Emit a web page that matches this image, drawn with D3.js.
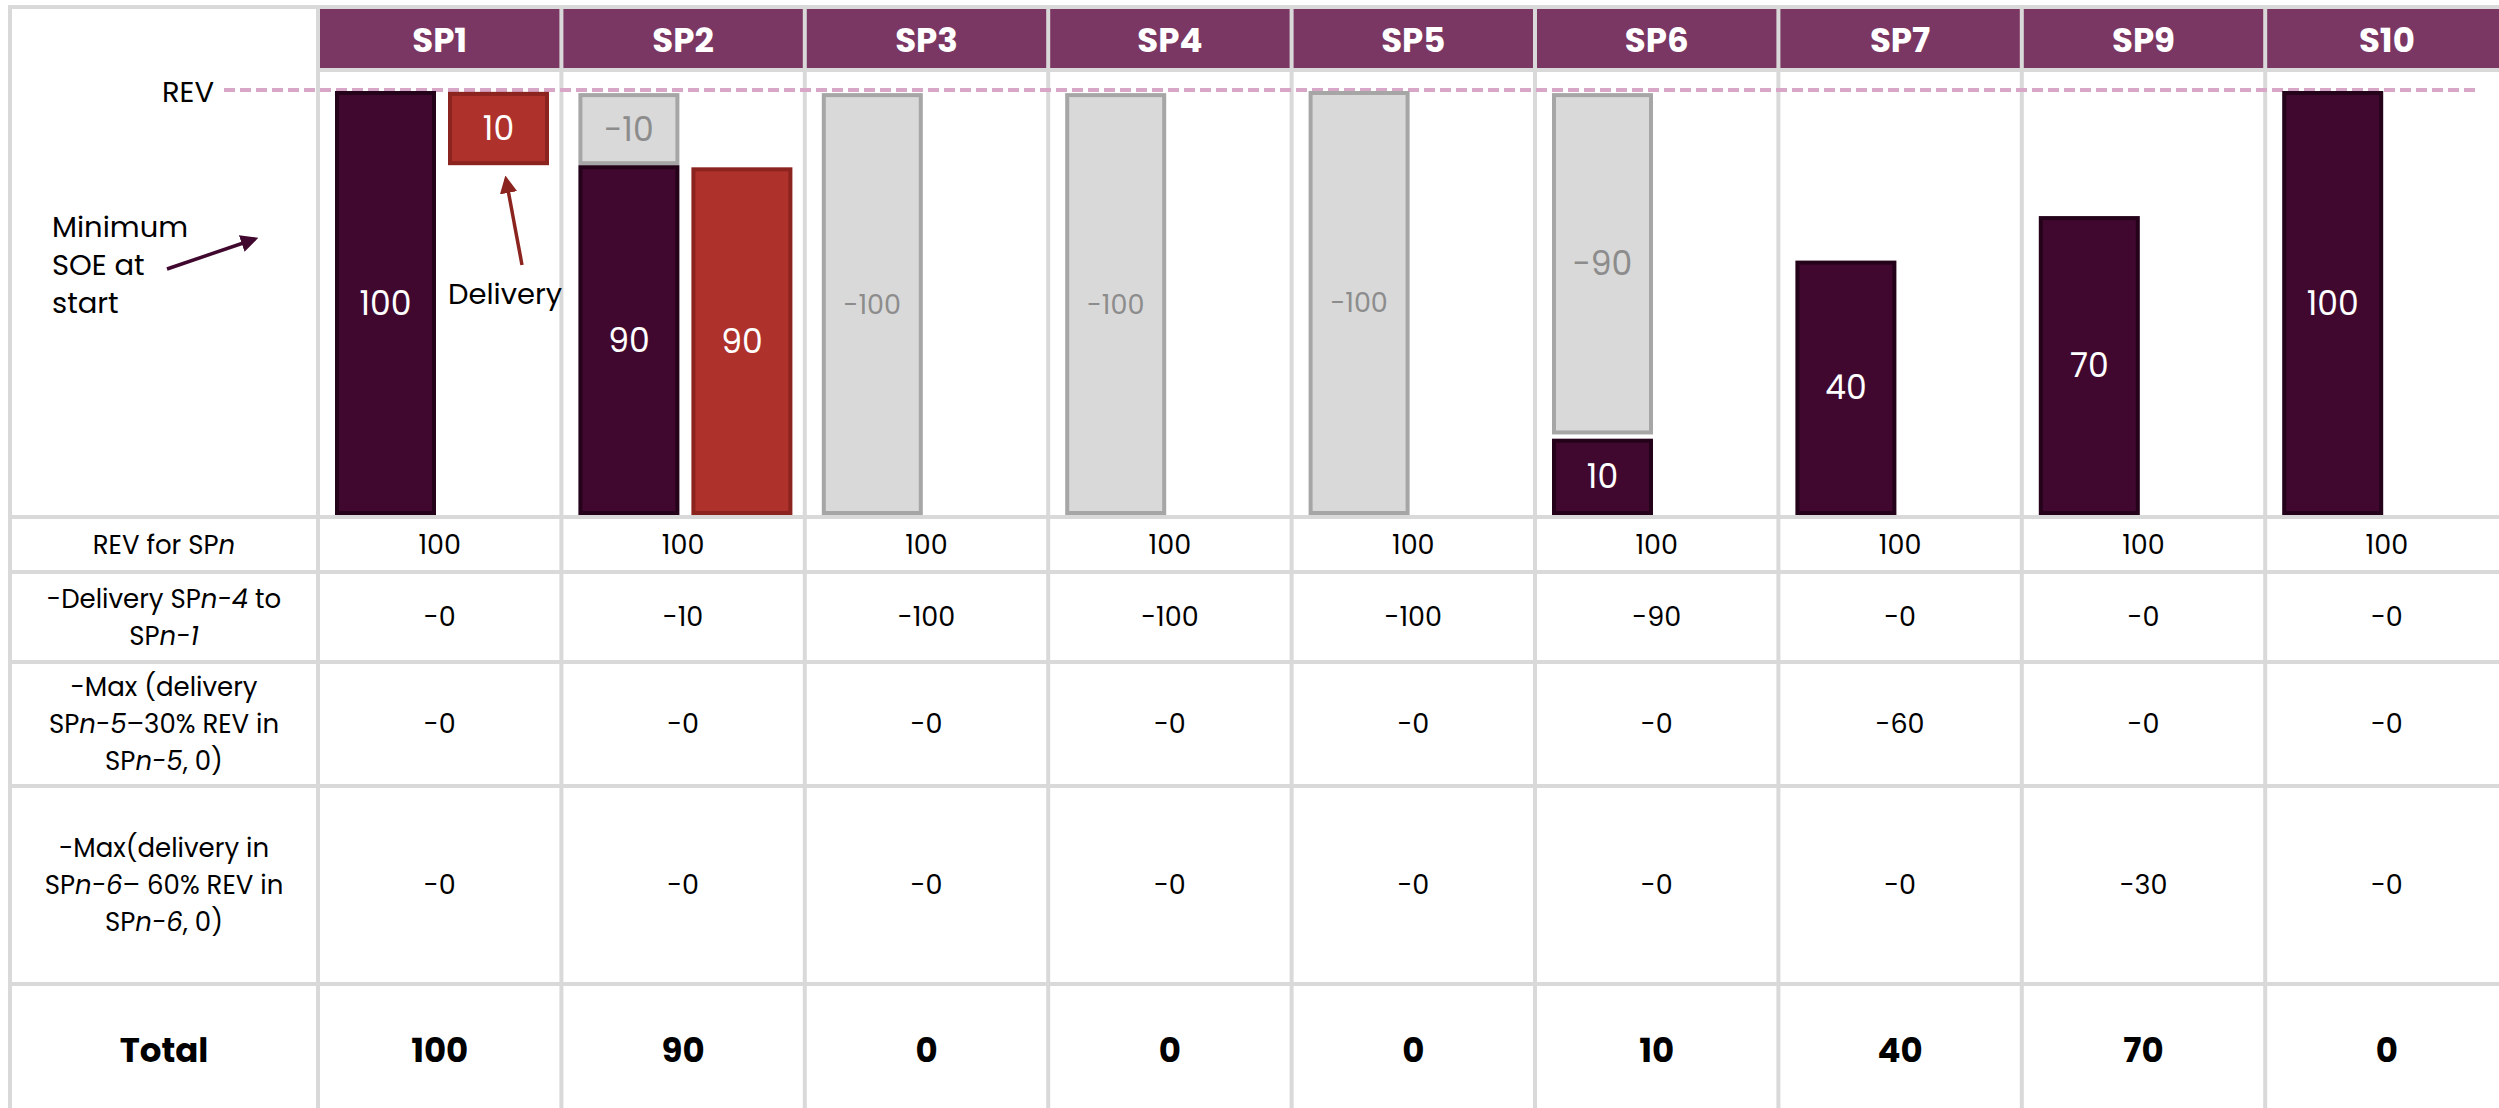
<!DOCTYPE html>
<html>
<head>
<meta charset="utf-8">
<script src="https://cdn.jsdelivr.net/npm/d3@7"></script>
<style>
  html, body { margin: 0; padding: 0; background: #fff; }
  svg text { font-family: "Poppins", "Open Sans", sans-serif; }
</style>
</head>
<body>
<svg class="chart"></svg>
<script>
// periods across the top
var periods = ["SP1", "SP2", "SP3", "SP4", "SP5", "SP6", "SP7", "SP9", "S10"];

// minimum SOE bar (dark), drawn from 0 up to soeLevel (REV = 100)
var soeLevel = [100, 82.5, 0, 0, 0, 18, 60, 70.5, 100];
var soeText = ["100", "90", "", "", "", "10", "40", "70", "100"];

// energy already used by earlier deliveries (grey)
var usedFrom = [0, 82.5, 0, 0, 0, 19, 0, 0, 0];
var usedTo = [0, 99.5, 99.5, 99.5, 100, 99.5, 0, 0, 0];
var usedText = ["", "-10", "-100", "-100", "-100", "-90", "", "", ""];

// delivery bars (red), second slot in the column
var delivFrom = [82.5, 0, 0, 0, 0, 0, 0, 0, 0];
var delivTo = [99.8, 82, 0, 0, 0, 0, 0, 0, 0];
var delivText = ["10", "90", "", "", "", "", "", "", ""];

// table rows
var rowLabels = [
  ["REV for SP<i>n</i>"],
  ["-Delivery SP<i>n-4</i> to", "SP<i>n-1</i>"],
  ["-Max (delivery", "SP<i>n-5</i>–30% REV in", "SP<i>n-5</i>, 0)"],
  ["-Max(delivery in", "SP<i>n-6</i>– 60% REV in", "SP<i>n-6</i>, 0)"],
  ["Total"]
];
var revRow = ["100", "100", "100", "100", "100", "100", "100", "100", "100"];
var deliveryRow = ["-0", "-10", "-100", "-100", "-100", "-90", "-0", "-0", "-0"];
var max30Row = ["-0", "-0", "-0", "-0", "-0", "-0", "-60", "-0", "-0"];
var max60Row = ["-0", "-0", "-0", "-0", "-0", "-0", "-0", "-30", "-0"];
var totalRow = ["100", "90", "0", "0", "0", "10", "40", "70", "0"];
var tableRows = [revRow, deliveryRow, max30Row, max60Row, totalRow];

var width = 2499, height = 1108;
var grid = "#d9d9d9";
var purple = "#7b3763";
var dark = "#40082f", darkEdge = "#24031a";
var red = "#af312b", redEdge = "#8b241f";
var grey = "#d9d9d9", greyEdge = "#a6a6a6";

var chart = d3.select(".chart")
  .attr("width", width)
  .attr("height", height);

var x = d3.scaleBand()
  .domain(periods)
  .range([318, 318 + 243.4 * periods.length]);

var y = d3.scaleLinear()
  .domain([0, 100])
  .range([515, 91]);

var barW = 101, slot1 = 17, slot2 = 130;
var rowEdges = [517, 572, 662, 786, 984, 1116];

// header band
chart.append("rect")
  .attr("x", 318).attr("y", 9)
  .attr("width", width - 318).attr("height", 61)
  .attr("fill", purple);

chart.selectAll("text.head")
  .data(periods)
  .enter().append("text")
  .attr("class", "head")
  .attr("x", function(d) { return x(d) + x.bandwidth() / 2; })
  .attr("y", 40)
  .attr("dy", "0.36em")
  .attr("text-anchor", "middle")
  .attr("fill", "#fff")
  .attr("font-weight", 700)
  .attr("font-size", 34)
  .text(function(d) { return d; });

// grid lines
var gl = chart.append("g").attr("stroke", grid).attr("stroke-width", 4);
gl.append("line").attr("x1", 8).attr("x2", width).attr("y1", 7).attr("y2", 7);
gl.append("line").attr("x1", 10).attr("x2", 10).attr("y1", 5).attr("y2", height);
gl.append("line").attr("x1", 318).attr("x2", width).attr("y1", 70).attr("y2", 70);
gl.selectAll("line.v")
  .data(periods)
  .enter().append("line")
  .attr("class", "v")
  .attr("x1", function(d) { return x(d); })
  .attr("x2", function(d) { return x(d); })
  .attr("y1", 5).attr("y2", height);
gl.selectAll("line.h")
  .data(rowEdges.slice(0, 5))
  .enter().append("line")
  .attr("class", "h")
  .attr("x1", 8).attr("x2", width)
  .attr("y1", function(d) { return d; })
  .attr("y2", function(d) { return d; });

// REV dashed line
chart.append("line")
  .attr("x1", 224).attr("x2", 2475)
  .attr("y1", y(100) - 1).attr("y2", y(100) - 1)
  .attr("stroke", "#d8a7c8")
  .attr("stroke-width", 4)
  .attr("stroke-dasharray", "11,5");

chart.append("text")
  .attr("x", 214).attr("y", y(100) + 1)
  .attr("dy", "0.35em")
  .attr("text-anchor", "end")
  .attr("font-size", 29)
  .text("REV");

// bars
function drawBars(cls, from, to, labels, offset, fill, edge, textFill) {
  var g = chart.selectAll("g." + cls)
    .data(periods.map(function(p, i) { return {p: p, a: from[i], b: to[i], t: labels[i]}; })
      .filter(function(d) { return d.b > d.a; }))
    .enter().append("g")
    .attr("class", cls);

  g.append("rect")
    .attr("x", function(d) { return x(d.p) + offset + 2; })
    .attr("y", function(d) { return y(d.b) + 2; })
    .attr("width", barW - 4)
    .attr("height", function(d) { return y(d.a) - y(d.b) - 4; })
    .attr("fill", fill)
    .attr("stroke", edge)
    .attr("stroke-width", 4);

  g.append("text")
    .attr("x", function(d) { return x(d.p) + offset + barW / 2; })
    .attr("y", function(d) { return (y(d.a) + y(d.b)) / 2; })
    .attr("dy", "0.35em")
    .attr("text-anchor", "middle")
    .attr("fill", textFill)
    .attr("font-size", function(d) { return d.t.length > 3 ? 27 : 33; })
    .text(function(d) { return d.t; });
}

drawBars("used", usedFrom, usedTo, usedText, slot1, grey, greyEdge, "#8c8c8c");
drawBars("soe", soeLevel.map(function() { return 0; }), soeLevel, soeText, slot1, dark, darkEdge, "#fff");
drawBars("deliv", delivFrom, delivTo, delivText, slot2, red, redEdge, "#fff");

// annotations
var defs = chart.append("defs");
[["headP", dark], ["headR", redEdge]].forEach(function(m) {
  defs.append("marker")
    .attr("id", m[0])
    .attr("viewBox", "0 0 10 10")
    .attr("refX", 8).attr("refY", 5)
    .attr("markerWidth", 5).attr("markerHeight", 5)
    .attr("orient", "auto")
    .append("path")
    .attr("d", "M0,0 L10,5 L0,10 z")
    .attr("fill", m[1]);
});

var note = chart.append("text")
  .attr("x", 52).attr("y", 227)
  .attr("font-size", 29);
["Minimum", "SOE at", "start"].forEach(function(s, i) {
  note.append("tspan").attr("x", 52).attr("dy", i ? 38 : 0).attr("dominant-baseline", "central").text(s);
});

chart.append("line")
  .attr("x1", 167).attr("y1", 269).attr("x2", 255).attr("y2", 239)
  .attr("stroke", dark).attr("stroke-width", 3.5)
  .attr("marker-end", "url(#headP)");

chart.append("text")
  .attr("x", x("SP1") + slot2)
  .attr("y", 294)
  .attr("dy", "0.35em")
  .attr("font-size", 29)
  .text("Delivery");

chart.append("line")
  .attr("x1", 522).attr("y1", 265).attr("x2", 506).attr("y2", 179)
  .attr("stroke", redEdge).attr("stroke-width", 3.5)
  .attr("marker-end", "url(#headR)");

// table labels
function addRich(sel, str) {
  str.split(/(<i>.*?<\/i>)/).forEach(function(part) {
    if (!part) return;
    var it = part.indexOf("<i>") === 0;
    sel.append("tspan")
      .attr("font-style", it ? "italic" : null)
      .text(it ? part.slice(3, -4) : part);
  });
}

rowLabels.forEach(function(lines, r) {
  var mid = (rowEdges[r] + rowEdges[r + 1]) / 2;
  var last = r === rowLabels.length - 1;
  lines.forEach(function(line, k) {
    var t = chart.append("text")
      .attr("x", 164)
      .attr("y", mid + (k - (lines.length - 1) / 2) * 37)
      .attr("dy", "0.35em")
      .attr("text-anchor", "middle")
      .attr("font-size", last ? 34 : 26)
      .attr("font-weight", last ? 700 : 400);
    addRich(t, line);
  });

  chart.selectAll("text.r" + r)
    .data(tableRows[r])
    .enter().append("text")
    .attr("class", "r" + r)
    .attr("x", function(d, i) { return x(periods[i]) + x.bandwidth() / 2; })
    .attr("y", mid)
    .attr("dy", "0.35em")
    .attr("text-anchor", "middle")
    .attr("font-size", last ? 34 : 27)
    .attr("font-weight", last ? 700 : 400)
    .text(function(d) { return d; });
});
</script>
</body>
</html>
